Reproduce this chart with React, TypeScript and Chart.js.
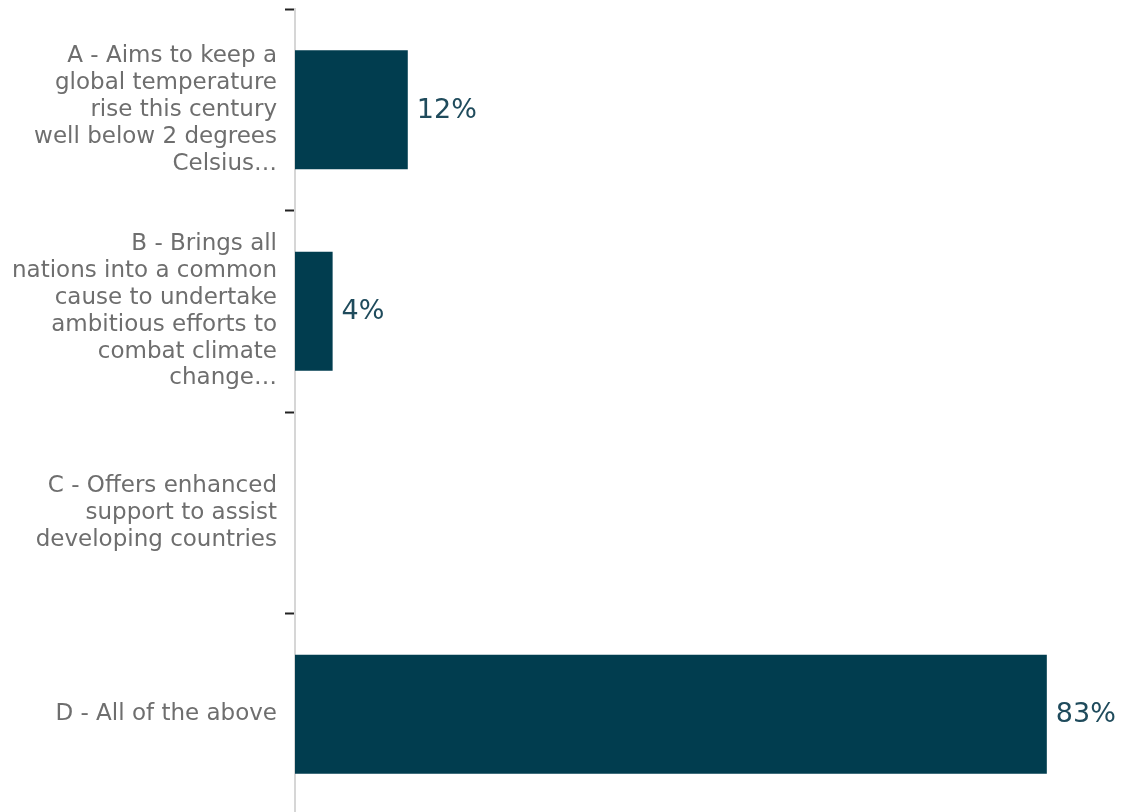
import React, { useEffect, useRef } from "react";
import { Chart, registerables } from "chart.js";

Chart.register(...registerables);

const categories: string[][] = [
  ["A - Aims to keep a", "global temperature", "rise this century", "well below 2 degrees", "Celsius…"],
  ["B - Brings all", "nations into a common", "cause to undertake", "ambitious efforts to", "combat climate", "change…"],
  ["C - Offers enhanced", "support to assist", "developing countries"],
  ["D - All of the above"],
];
const values: number[] = [12.5, 4.17, 0, 83.33];
const valueLabels: string[] = ["12%", "4%", "", "83%"];

const FONT = "'DejaVu Sans', 'Noto Sans', sans-serif";

const valueLabelPlugin = {
  id: "valueLabels",
  afterDatasetsDraw(chart: any) {
    const ctx = chart.ctx;
    const meta = chart.getDatasetMeta(0);
    ctx.save();
    ctx.font = `27px ${FONT}`;
    ctx.fillStyle = "#1f4b5c";
    ctx.textAlign = "left";
    ctx.textBaseline = "middle";
    meta.data.forEach((bar: any, i: number) => {
      const label = valueLabels[i];
      if (!label) return;
      ctx.fillText(label, bar.x + 9, bar.y + 1);
    });
    ctx.restore();
  },
};

export default function App() {
  const canvasRef = useRef<HTMLCanvasElement | null>(null);

  useEffect(() => {
    if (!canvasRef.current) return;
    const chart = new Chart(canvasRef.current, {
      type: "bar",
      data: {
        labels: categories,
        datasets: [
          {
            data: values,
            backgroundColor: "#013d4f",
            borderWidth: 0,
            categoryPercentage: 1,
            barPercentage: 0.59,
          },
        ],
      },
      options: {
        indexAxis: "y",
        animation: false,
        responsive: true,
        maintainAspectRatio: false,
        layout: { padding: { top: 9, right: 16, left: 0, bottom: 0 } },
        plugins: {
          legend: { display: false },
          tooltip: { enabled: false },
        },
        scales: {
          x: {
            display: false,
            min: 0,
            max: 90,
          },
          y: {
            afterFit: (scale: any) => {
              scale.width = 295;
              scale.paddingTop = 0;
              scale.paddingBottom = 0;
            },
            grid: {
              offset: true,
              drawOnChartArea: false,
              drawTicks: true,
              tickLength: 10,
              tickColor: "#222222",
              tickWidth: 2,
            },
            border: { display: true, color: "#d6d6d6", width: 2 },
            ticks: {
              color: "#6e6e6e",
              padding: 8,
              font: { family: FONT, size: 23, lineHeight: 1.17 },
            },
          },
        },
      },
      plugins: [valueLabelPlugin],
    });
    return () => chart.destroy();
  }, []);

  return (
    <div style={{ position: "fixed", left: 0, top: 0, width: 1123, height: 815, background: "#fff" }}>
      <canvas ref={canvasRef} />
    </div>
  );
}
